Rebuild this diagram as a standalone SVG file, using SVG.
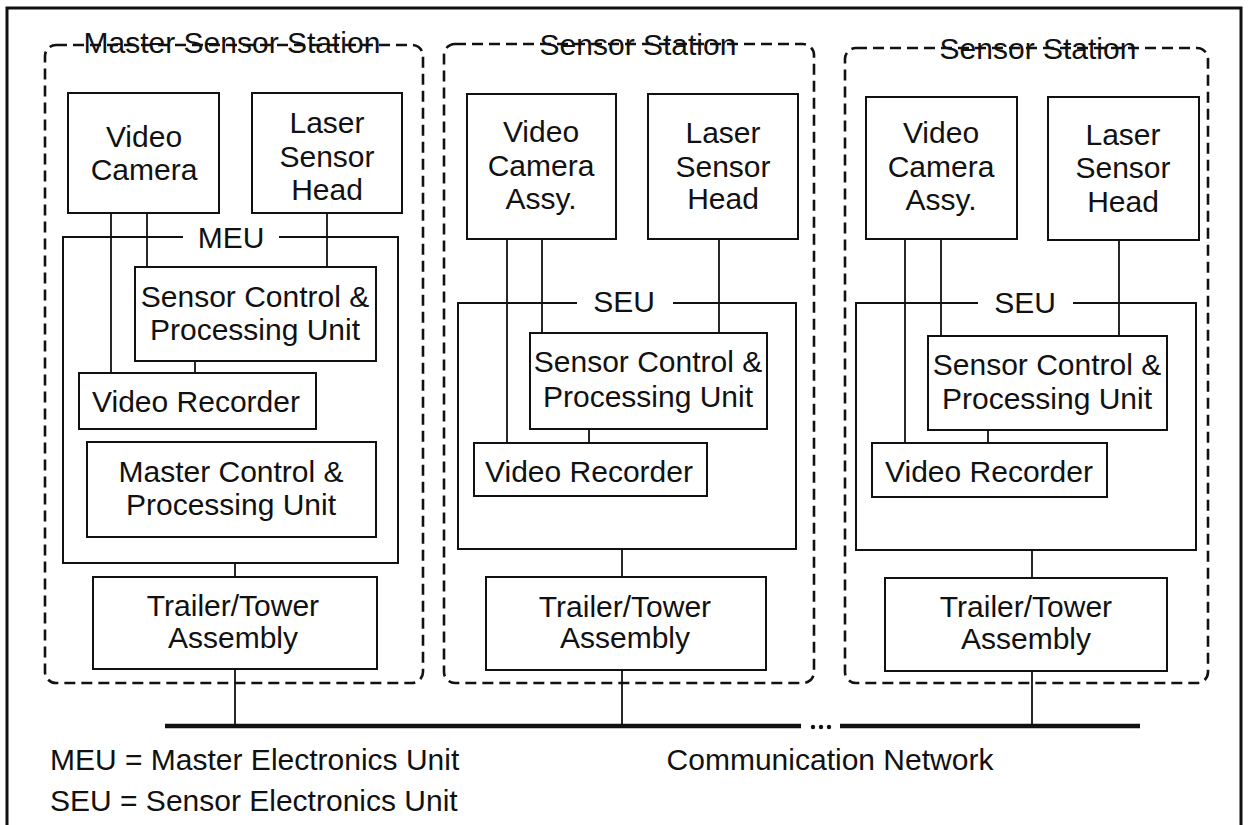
<svg xmlns="http://www.w3.org/2000/svg" width="1248" height="825" viewBox="0 0 1248 825">
<style>
.box{fill:none;stroke:#111;stroke-width:2}
.unit{fill:none;stroke:#111;stroke-width:2}
.dash{fill:none;stroke:#111;stroke-width:2.6;stroke-dasharray:11 6}
.ln{fill:none;stroke:#111;stroke-width:1.8}
.bus{fill:none;stroke:#111;stroke-width:4.5}
text{font-family:"Liberation Sans",Arial,sans-serif;font-size:30px;fill:#111;text-anchor:middle}
.lft{text-anchor:start}
</style>
<rect width="1248" height="825" fill="#fff"/>
<path d="M7,825 V8 H1241 V825" fill="none" stroke="#111" stroke-width="3"/>

<g id="station-master">
<rect class="dash" x="45" y="45" width="378" height="638" rx="11"/>
<text x="232" y="53">Master Sensor Station</text>
</g>
<g id="station-2">
<rect class="dash" x="444" y="44" width="370" height="639" rx="11"/>
<text x="638" y="55">Sensor Station</text>
</g>
<g id="station-3">
<rect class="dash" x="845" y="48" width="363" height="635" rx="11"/>
<text x="1038" y="59">Sensor Station</text>
</g>

<g id="connectors">
<!-- master -->
<path class="ln" d="M111,213 V373 M147,213 V267 M327,213 V267 M195,361 V373 M235,563 V577 M235,669 V726"/>
<!-- station 2 -->
<path class="ln" d="M507,239 V443 M542,239 V333 M719,239 V333 M589,429 V443 M622,549 V577 M622,670 V726"/>
<!-- station 3 -->
<path class="ln" d="M905,239 V443 M941,239 V336 M1119,240 V336 M988,430 V443 M1032,550 V578 M1032,671 V726"/>
</g>

<g id="network">
<path class="bus" d="M165,726 H801 M840,726 H1140"/>
<circle cx="813" cy="727" r="2.2" fill="#111"/>
<circle cx="821" cy="727" r="2.2" fill="#111"/>
<circle cx="829" cy="727" r="2.2" fill="#111"/>
<text x="830" y="770">Communication Network</text>
</g>

<!-- Master station nodes -->
<g id="m-camera">
<rect class="box" x="68" y="93" width="151" height="120"/>
<text x="144" y="147">Video</text>
<text x="144" y="180">Camera</text>
</g>
<g id="m-laser">
<rect class="box" x="252" y="93" width="150" height="120"/>
<text x="327" y="133">Laser</text>
<text x="327" y="167">Sensor</text>
<text x="327" y="200">Head</text>
</g>
<g id="m-meu">
<path class="unit" d="M183,237 H63 V563 H398 V237 H279"/>
<text x="231" y="248">MEU</text>
</g>
<g id="m-scpu">
<rect class="box" x="135" y="267" width="241" height="94"/>
<text x="255" y="307">Sensor Control &amp;</text>
<text x="255" y="340">Processing Unit</text>
</g>
<g id="m-vr">
<rect class="box" x="79" y="373" width="237" height="56"/>
<text x="196" y="412">Video Recorder</text>
</g>
<g id="m-mcpu">
<rect class="box" x="87" y="442" width="289" height="95"/>
<text x="231" y="482">Master Control &amp;</text>
<text x="231" y="515">Processing Unit</text>
</g>
<g id="m-trailer">
<rect class="box" x="93" y="577" width="284" height="92"/>
<text x="233" y="616">Trailer/Tower</text>
<text x="233" y="648">Assembly</text>
</g>

<!-- Station 2 nodes -->
<g id="s2-camera">
<rect class="box" x="467" y="94" width="149" height="145"/>
<text x="541" y="142">Video</text>
<text x="541" y="176">Camera</text>
<text x="541" y="209">Assy.</text>
</g>
<g id="s2-laser">
<rect class="box" x="648" y="94" width="150" height="145"/>
<text x="723" y="143">Laser</text>
<text x="723" y="177">Sensor</text>
<text x="723" y="209">Head</text>
</g>
<g id="s2-seu">
<path class="unit" d="M577,303 H458 V549 H796 V303 H673"/>
<text x="624" y="312">SEU</text>
</g>
<g id="s2-scpu">
<rect class="box" x="530" y="333" width="237" height="96"/>
<text x="648" y="372">Sensor Control &amp;</text>
<text x="648" y="407">Processing Unit</text>
</g>
<g id="s2-vr">
<rect class="box" x="474" y="443" width="233" height="53"/>
<text x="589" y="482">Video Recorder</text>
</g>
<g id="s2-trailer">
<rect class="box" x="486" y="577" width="280" height="93"/>
<text x="625" y="617">Trailer/Tower</text>
<text x="625" y="648">Assembly</text>
</g>

<!-- Station 3 nodes -->
<g id="s3-camera">
<rect class="box" x="866" y="97" width="151" height="142"/>
<text x="941" y="143">Video</text>
<text x="941" y="177">Camera</text>
<text x="941" y="210">Assy.</text>
</g>
<g id="s3-laser">
<rect class="box" x="1048" y="97" width="151" height="143"/>
<text x="1123" y="145">Laser</text>
<text x="1123" y="178">Sensor</text>
<text x="1123" y="212">Head</text>
</g>
<g id="s3-seu">
<path class="unit" d="M978,303 H856 V550 H1196 V303 H1073"/>
<text x="1025" y="313">SEU</text>
</g>
<g id="s3-scpu">
<rect class="box" x="928" y="336" width="239" height="94"/>
<text x="1047" y="375">Sensor Control &amp;</text>
<text x="1047" y="409">Processing Unit</text>
</g>
<g id="s3-vr">
<rect class="box" x="872" y="443" width="235" height="54"/>
<text x="989" y="482">Video Recorder</text>
</g>
<g id="s3-trailer">
<rect class="box" x="885" y="578" width="282" height="93"/>
<text x="1026" y="617">Trailer/Tower</text>
<text x="1026" y="649">Assembly</text>
</g>

<g id="legend">
<text class="lft" x="50" y="770">MEU = Master Electronics Unit</text>
<text class="lft" x="50" y="811">SEU = Sensor Electronics Unit</text>
</g>
</svg>
